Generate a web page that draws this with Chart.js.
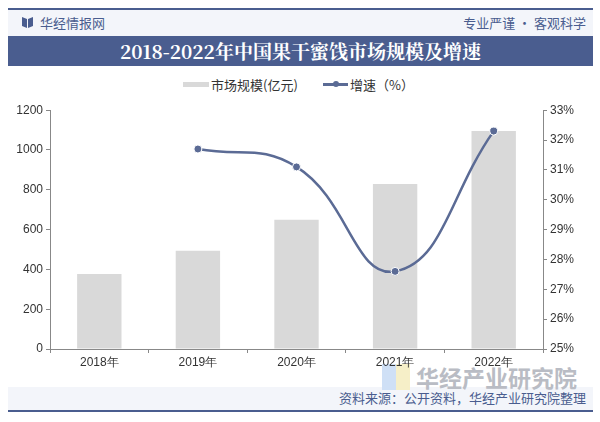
<!DOCTYPE html>
<html><head><meta charset="utf-8">
<script src="https://cdn.jsdelivr.net/npm/chart.js@4/dist/chart.umd.min.js"></script>
<style>
html,body{margin:0;padding:0;background:#fff;width:600px;height:422px;overflow:hidden;font-family:"Noto Sans CJK SC","Noto Sans",sans-serif;}
.abs{position:absolute;}
#topline{left:8px;top:8px;width:585px;height:2px;background:#4a5d8f;}
#header{left:8px;top:10px;width:585px;height:26px;background:#f3f5fa;}
#brand{left:40px;top:13px;font-size:13px;color:#4a5d8f;line-height:20px;}
#icon{left:22px;top:17px;width:11px;height:11px;}
#slogan{right:14px;top:13px;font-size:13px;color:#4a5d8f;line-height:20px;}
#band{left:8px;top:36px;width:585px;height:30px;background:#4a5d8f;color:#fff;font-weight:bold;font-size:19px;line-height:30px;text-align:center;font-family:"Noto Serif CJK SC","Noto Sans CJK SC",serif;}
#legend{left:0;top:75px;width:600px;height:20px;font-size:13px;color:#333;}
#footer{left:8px;top:387px;width:585px;height:23px;background:#f3f5fa;}
#source{right:14px;top:388px;font-size:13px;color:#4a5d8f;line-height:20px;}
#botline{left:8px;top:410px;width:585px;height:1.5px;background:#4a5d8f;}
#wm{left:416px;top:364px;font-size:23px;font-weight:bold;color:#b9bcc4;line-height:26px;}
#wmicon1{left:382px;top:364px;width:14px;height:26px;background:#cfe0f6;}
#wmicon2{left:396px;top:364px;width:14px;height:26px;background:#f6efc8;}
#cv{left:0;top:100px;width:600px;height:280px;}
</style></head>
<body>
<div class="abs" id="topline"></div>
<div class="abs" id="header"></div>
<svg class="abs" id="icon" viewBox="0 0 11 11"><path d="M0 0 L5 2 L5 11 L0 9 Z M6 2 L11 0 L11 9 L6 11 Z" fill="#4a5d8f"/></svg>
<div class="abs" id="brand">华经情报网</div>
<div class="abs" id="slogan">专业严谨 • 客观科学</div>
<div class="abs" id="band">2018-2022年中国果干蜜饯市场规模及增速</div>
<div class="abs" id="legend">
  <div class="abs" style="left:183px;top:7px;width:26px;height:5px;background:#d9d9d9;"></div>
  <div class="abs" style="left:211px;top:0px;line-height:20px;" id="lg1"></div>
  <div class="abs" style="left:323px;top:8px;width:25px;height:2.5px;background:#5b6b95;"></div>
  <div class="abs" style="left:333px;top:6px;width:6px;height:6px;border-radius:50%;background:#5b6b95;"></div>
  <div class="abs" style="left:350px;top:0px;line-height:20px;" id="lg2"></div>
</div>
<div class="abs" id="footer"></div>
<div class="abs" id="wmicon1"></div>
<div class="abs" id="wmicon2"></div>
<div class="abs" id="wm">华经产业研究院</div>
<div class="abs" id="source">资料来源：公开资料，华经产业研究院整理</div>
<div class="abs" id="botline"></div>
<canvas class="abs" id="cv" width="600" height="280"></canvas>
<script>
const categories = ["2018年","2019年","2020年","2021年","2022年"];
const marketSize = [377, 494, 650, 829, 1096];
const growthRate = [null, 31.7, 31.1, 27.6, 32.3];
const leftTicks = [0,200,400,600,800,1000,1200];
const rightTicks = [25,26,27,28,29,30,31,32,33];
const seriesNames = ["市场规模(亿元)", "增速（%）"];

document.getElementById('lg1').textContent = seriesNames[0];
document.getElementById('lg2').textContent = seriesNames[1];

const tickFont = {family:"'Liberation Sans', Arial, sans-serif", size:12};
new Chart(document.getElementById('cv'), {
  data: {
    labels: categories,
    datasets: [
      {type:'line', label:seriesNames[1], data:growthRate, yAxisID:'y1',
       borderColor:'#5b6b95', borderWidth:2.5, tension:0.45,
       pointRadius:4, pointBackgroundColor:'#5b6b95', pointBorderColor:'#ffffff', pointBorderWidth:1,
       spanGaps:false, order:0},
      {type:'bar', label:seriesNames[0], data:marketSize, yAxisID:'y',
       backgroundColor:'#d9d9d9', barPercentage:0.9, categoryPercentage:0.5, order:1}
    ]
  },
  options: {
    responsive:false, animation:false,
    layout:{padding:{top:9, left:0, right:0, bottom:0}},
    plugins:{legend:{display:false}, tooltip:{enabled:false}},
    scales:{
      x:{
        offset:true,
        grid:{display:true, drawOnChartArea:false, drawTicks:true, tickLength:4, offset:true, color:'#888'},
        border:{display:true, color:'#888'},
        ticks:{color:'#333', font:tickFont, padding:2},
        afterFit(s){ s.height = 31; }
      },
      y:{
        position:'left', min:0, max:1200,
        afterBuildTicks(s){ s.ticks = leftTicks.map(v=>({value:v})); },
        grid:{display:true, drawOnChartArea:false, drawTicks:true, tickLength:4, color:'#888'},
        border:{display:true, color:'#888'},
        ticks:{color:'#333', font:tickFont, padding:3, callback:v=>String(v)},
        afterFit(s){ s.width = 50; }
      },
      y1:{
        position:'right', min:25, max:33,
        afterBuildTicks(s){ s.ticks = rightTicks.map(v=>({value:v})); },
        grid:{display:true, drawOnChartArea:false, drawTicks:true, tickLength:4, color:'#888'},
        border:{display:true, color:'#888'},
        ticks:{color:'#333', font:tickFont, padding:3, callback:v=>v+'%'},
        afterFit(s){ s.width = 57; }
      }
    }
  }
});
</script>
</body></html>
